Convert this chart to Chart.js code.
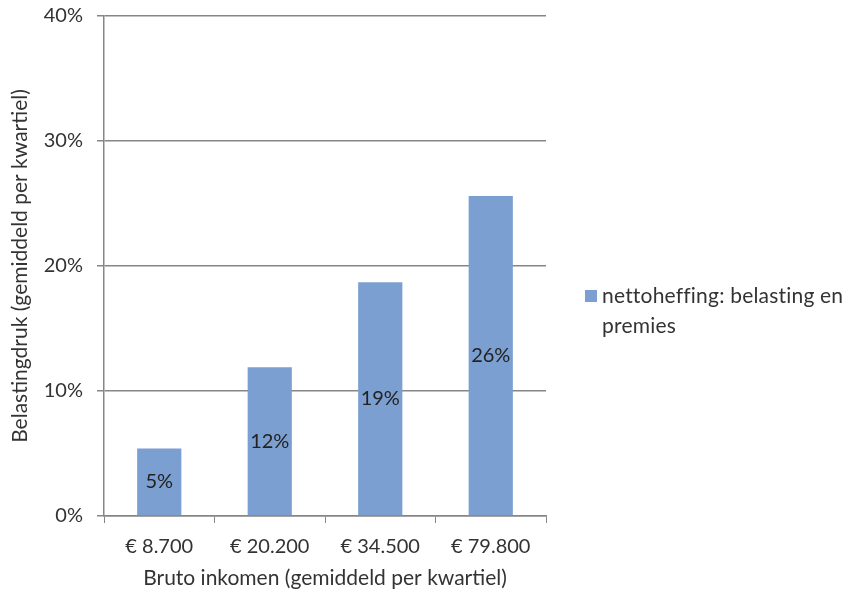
<!DOCTYPE html>
<html><head><meta charset="utf-8">
<script src="https://cdn.jsdelivr.net/npm/chart.js@4"></script>
<style>html,body{margin:0;padding:0;background:#fff}#wrap{width:861px;height:593px}</style>
</head><body><div id="wrap"><canvas id="c"></canvas></div>
<script>
const categories = ['€ 8.700', '€ 20.200', '€ 34.500', '€ 79.800'];
const values = [5.4, 11.9, 18.7, 25.6];
const seriesLabel = ['nettoheffing: belasting en', 'premies'];
const yTicks = [0, 10, 20, 30, 40];
const FONT = 'Lato';
const TXT = '#333333';
const BAR = '#7b9fd0';

const barLabels = {
  id: 'barLabels',
  afterDatasetsDraw(chart) {
    const ctx = chart.ctx;
    const meta = chart.getDatasetMeta(0);
    ctx.save();
    ctx.font = '20px ' + FONT;
    ctx.fillStyle = '#222';
    ctx.textAlign = 'center';
    ctx.textBaseline = 'middle';
    meta.data.forEach((bar, i) => {
      const p = bar.getProps(['x', 'y', 'base'], true);
      ctx.fillText(Math.round(values[i]) + '%', p.x, (p.y + p.base) / 2);
    });
    ctx.restore();
  }
};
const legendPlugin = {
  id: 'sideLegend',
  afterDraw(chart) {
    const ctx = chart.ctx;
    const x = 585, y = 296;
    ctx.save();
    ctx.fillStyle = BAR;
    ctx.fillRect(x, y - 6, 12, 12);
    ctx.font = '21px ' + FONT;
    ctx.letterSpacing = '0.2px';
    ctx.fillStyle = TXT;
    ctx.textBaseline = 'middle';
    ctx.textAlign = 'left';
    seriesLabel.forEach((t, i) => ctx.fillText(t, x + 17, y + i * 30));
    ctx.restore();
  }
};

new Chart(document.getElementById('c'), {
  type: 'bar',
  data: {
    labels: categories,
    datasets: [{ label: seriesLabel.join(' '), data: values, backgroundColor: BAR, barPercentage: 0.4, categoryPercentage: 1 }]
  },
  options: {
    responsive: true, maintainAspectRatio: false, animation: false,
    layout: { padding: { left: 0, right: 315, top: 16, bottom: 0 } },
    plugins: { legend: { display: false }, tooltip: { enabled: false } },
    scales: {
      x: {
        afterFit(axis) { axis.height = 77; axis.paddingLeft = 0; axis.paddingRight = 0; },
        grid: { display: true, drawOnChartArea: false, color: '#868686', tickLength: 7, offset: true },
        border: { color: '#868686', width: 1.5 },
        ticks: { color: TXT, font: { family: FONT, size: 20 }, padding: 12 },
        title: { display: true, text: 'Bruto inkomen (gemiddeld per kwartiel)', color: TXT, font: { family: FONT, size: 21 }, padding: { top: 0, bottom: 2 } }
      },
      y: {
        min: 0, max: 40,
        afterFit(axis) { axis.width = 104; axis.paddingTop = 0; axis.paddingBottom = 0; },
        afterBuildTicks(axis) { axis.ticks = yTicks.map(v => ({ value: v })); },
        grid: { color: '#868686', lineWidth: 1.5, tickLength: 7 },
        border: { color: '#868686', width: 1.5 },
        ticks: { color: TXT, font: { family: FONT, size: 20 }, padding: 14, callback: v => v + '%' },
        title: { display: true, text: 'Belastingdruk (gemiddeld per kwartiel)', color: TXT, font: { family: FONT, size: 21 }, padding: { top: 8, bottom: 0 } }
      }
    }
  },
  plugins: [barLabels, legendPlugin]
});
</script></body></html>
